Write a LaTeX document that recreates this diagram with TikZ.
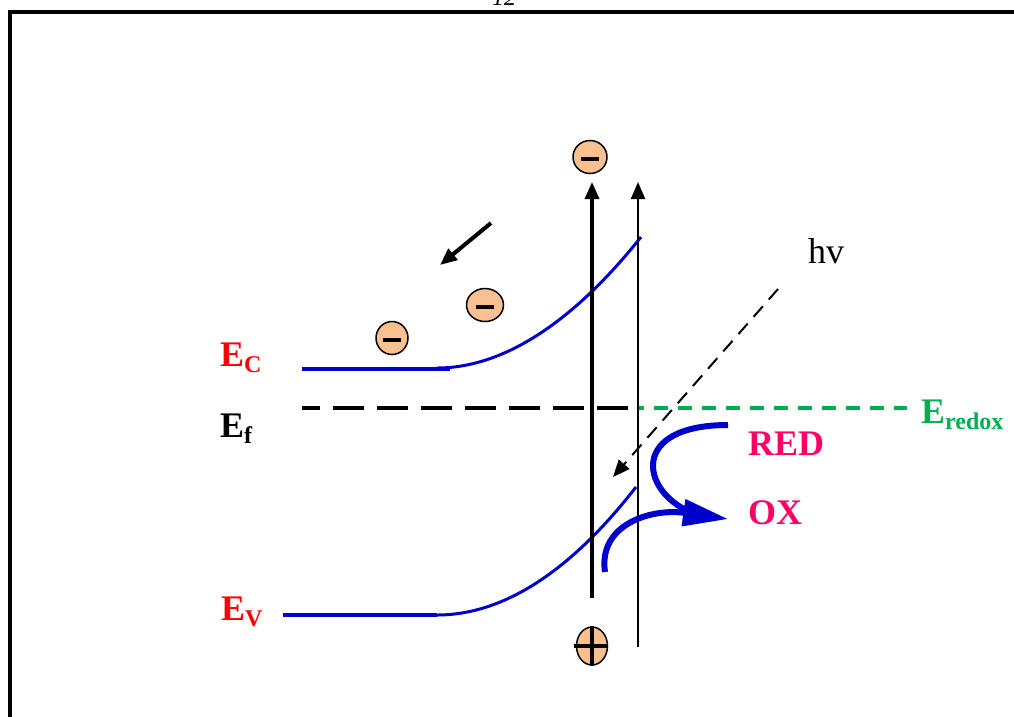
\documentclass[tikz,border=0pt]{standalone}
\usepackage{fontspec}
\setmainfont{Liberation Serif}
\usetikzlibrary{arrows.meta, shapes.geometric}

\definecolor{bandblue}{RGB}{0,0,204}
\definecolor{redoxgreen}{RGB}{0,176,80}
\definecolor{speciespink}{RGB}{255,0,102}
\definecolor{carrierfill}{RGB}{250,192,144}

\newcommand{\bandlbl}[2]{#1\raisebox{-6pt}{\fontsize{24}{26}\selectfont #2}}

\begin{document}
\begin{tikzpicture}[
    x=1pt, y=-1pt,
    >={Triangle[width=14pt,length=17pt]},
    band/.style={
        draw=bandblue,
        line width=3pt
    },
    lbl/.style={
        font=\fontsize{36}{40}\selectfont\bfseries,
        inner sep=0pt,
        anchor=base west
    },
    carrier/.style={
        ellipse,
        draw=black,
        line width=1.5pt,
        fill=carrierfill,
        minimum width=34pt,
        minimum height=33pt,
        inner sep=0pt
    },
    electron/.style={
        carrier,
        path picture={\draw[line width=3.5pt]
            ([xshift=-9pt,yshift=-2pt]path picture bounding box.center) --
            ([xshift=9pt,yshift=-2pt]path picture bounding box.center);}
    },
    transfer/.style={
        draw=bandblue,
        line width=6pt
    }
]

    \useasboundingbox (0,0) rectangle (1014,716);

    % === Cadre et numero de page ===
    \draw[line width=4pt] (9.5,12) rectangle (1040,740);
    \node[font=\fontsize{24}{26}\selectfont\itshape, anchor=base] (pagenum) at (504,5) {12};

    % === Niveaux ===
    \node[lbl, text=red] (ec) at (220,366) {\bandlbl{E}{C}};
    \node[lbl] (ef) at (220,437) {\bandlbl{E}{f}};
    \node[lbl, text=red] (ev) at (221,620) {\bandlbl{E}{V}};
    \node[lbl, text=redoxgreen] (eredox) at (921,423) {\bandlbl{E}{redox}};
    \node[lbl, text=speciespink] (red) at (748,455) {RED};
    \node[lbl, text=speciespink] (ox) at (748,524) {OX};
    \node[lbl, font=\fontsize{36}{40}\selectfont] (hv) at (808,263) {hv};

    \coordinate (ec-l) at (302,369);
    \coordinate (ec-k) at (450,369);
    \coordinate (ec-b) at (437,368);
    \coordinate (ec-r) at (641,237);
    \coordinate (ev-l) at (283,615);
    \coordinate (ev-b) at (437,615);
    \coordinate (ev-r) at (636,487);
    \coordinate (ef-l) at (302,408);
    \coordinate (ef-m) at (630,408);
    \coordinate (ef-g) at (639,408);
    \coordinate (ef-r) at (907,408);

    % === Bandes ===
    \draw[band, line width=3.5pt] (ec-l) -- (ec-k);
    \draw[band] (ec-b) .. controls (505,368) and (575,320) .. (ec-r);
    \draw[band, line width=3.5pt] (ev-l) -- (ev-b);
    \draw[band] (ev-b) .. controls (503,615) and (570,572) .. (ev-r);
    \draw[line width=4pt, dash pattern=on 31pt off 13pt, dash phase=13pt] (ef-l) -- (ef-m);
    \draw[redoxgreen, line width=4pt, dash pattern=on 14pt off 10pt, dash phase=9pt] (ef-g) -- (ef-r);

    % === Interface ===
    \coordinate (sc-bot) at (592,598);
    \coordinate (sc-top) at (592,182);
    \coordinate (el-bot) at (638,647);
    \coordinate (el-top) at (638,182);
    \draw[->, line width=3.5pt] (sc-bot) -- (sc-top);
    \draw[->, line width=2.2pt] (el-bot) -- (el-top);

    % === Porteurs ===
    \node[electron] (e-top) at (590,157) {};
    \node[electron, minimum width=37pt] (e-mid) at (485,305) {};
    \node[electron, minimum width=32pt] (e-low) at (392,338) {};
    \node[carrier, minimum width=31pt, minimum height=38pt] (h-bot) at (592,646) {};
    \draw[line width=3.5pt] (h-bot.north) -- (h-bot.south);
    \draw[line width=3.5pt] ([xshift=-2pt]h-bot.west) -- (h-bot.east);

    \coordinate (drift-s) at (491,223);
    \coordinate (drift-e) at (440,265);
    \draw[->, line width=4pt] (drift-s) -- (drift-e);

    % === Photon ===
    \coordinate (ph-s) at (778,289);
    \coordinate (ph-e) at (613,477);
    \draw[->, line width=2pt, dash pattern=on 14pt off 9pt] (ph-s) -- (ph-e);

    % === Transfert de charge ===
    \coordinate (red-s) at (728,425);
    \coordinate (red-e) at (690,512);
    \coordinate (ox-s) at (605,572);
    \coordinate (ox-e) at (728,519);
    \draw[transfer] (red-s) .. controls (630,425) and (640,490) .. (red-e);
    \draw[transfer, -{Triangle[width=26pt,length=45pt]}]
        (ox-s) .. controls (598,525) and (650,508) .. (ox-e);

\end{tikzpicture}
\end{document}
